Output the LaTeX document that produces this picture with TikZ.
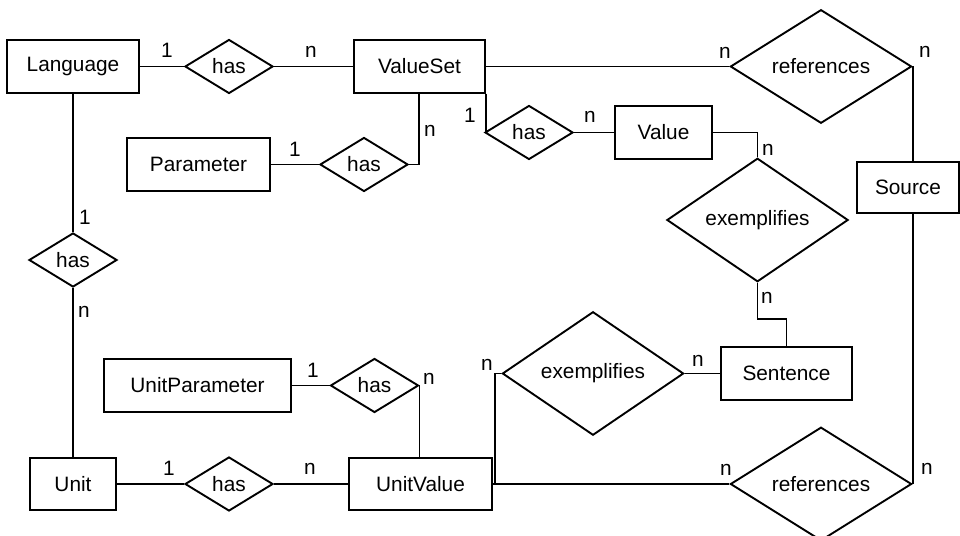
\documentclass[tikz,border=0pt]{standalone}
\usepackage{fontspec}
\setmainfont{Liberation Sans}
\usepackage{tikz}
\usetikzlibrary{shapes.geometric,calc}

\tikzset{
  entity/.style={draw, rectangle, inner sep=0pt, minimum height=1.31cm},
  rel/.style={draw, diamond, inner sep=0pt, minimum width=2.2cm, minimum height=1.35cm},
  bigrel/.style={draw, diamond, inner sep=0pt, minimum width=4.53cm, minimum height=2.75cm},
  card/.style={inner sep=0pt}
}

\begin{document}
\begin{tikzpicture}[x=0.025cm, y=-0.025cm, line width=1.35pt,
    every node/.style={font=\fontsize{14.8}{17}\selectfont}]
    \useasboundingbox (0,0) rectangle (960,536);

    % Entities
    \node[entity, minimum width=3.3cm] (lang) at (73,66.5) {Language};
    \node[entity, minimum width=3.28cm] (vset) at (419.5,66.5) {ValueSet};
    \node[entity, minimum width=3.58cm] (param) at (198.5,164.5) {Parameter};
    \node[entity, minimum width=2.43cm] (val) at (663.5,132.5) {Value};
    \node[entity, minimum width=2.55cm, minimum height=1.28cm] (src) at (908,187.5) {Source};
    \node[entity, minimum width=3.28cm] (sent) at (786.5,373.5) {Sentence};
    \node[entity, minimum width=4.68cm] (upar) at (197.5,385.5) {UnitParameter};
    \node[entity, minimum width=2.15cm] (unit) at (73,484) {Unit};
    \node[entity, minimum width=3.58cm] (uval) at (420.5,484) {UnitValue};

    % Relationships
    \node[rel] (haslv) at (229,66.5) {has};
    \node[rel] (hasvp) at (364,164.5) {has};
    \node[rel] (hasvv) at (529,132.5) {has};
    \node[rel] (haslu) at (73,260) {has};
    \node[rel] (hasuu) at (229,484) {has};
    \node[rel] (hasup) at (374.5,385.5) {has};
    \node[bigrel] (reftop) at (821,66.5) {references};
    \node[bigrel] (exval) at (757.5,220) {exemplifies};
    \node[bigrel] (exuval) at (593,373.5) {exemplifies};
    \node[bigrel] (refbot) at (821,484) {references};

    % Connectors
    \draw (lang) -- (haslv) -- (vset);
    \draw (vset.east) -- (reftop.west);
    \draw (reftop.east) -- (reftop.east |- src.north);
    \draw (reftop.east |- src.south) -- (refbot.east);
    \draw (vset.south -| hasvp.east) ++(10,0) coordinate (vsdown) |- (hasvp.east);
    \draw (vset.south east) |- (hasvv.west);
    \draw (hasvp.west) -- (param.east);
    \draw (hasvv.east) -- (val.west);
    \draw (val.east) -| (exval.north);
    \draw (exval.south) -- ++(0,36) -| (sent.north);
    \draw (exuval.east) -- (sent.west);
    \draw (exuval.west) -- ++(-6,0) |- (uval.east);
    \draw (uval.east) -- (refbot.west);
    \draw (lang.south) -- (haslu.north);
    \draw (haslu.south) -- (unit.north);
    \draw (unit) -- (hasuu) -- (uval);
    \draw (upar.east) -- (hasup.west);
    \draw (hasup.east) -- (hasup.east |- uval.north);

    % Cardinalities
    \node[card] (c1) at (167,50) {1};
    \node[card] (c2) at (311,52) {n};
    \node[card] (c3) at (725,53) {n};
    \node[card] (c4) at (925,52) {n};
    \node[card] (c5) at (430,131) {n};
    \node[card] (c6) at (295,149) {1};
    \node[card] (c7) at (470,115) {1};
    \node[card] (c8) at (590,117) {n};
    \node[card] (c9) at (768,150) {n};
    \node[card] (c10) at (85,217) {1};
    \node[card] (c11) at (84,312) {n};
    \node[card] (c12) at (313,370) {1};
    \node[card] (c13) at (429,379) {n};
    \node[card] (c14) at (169,468) {1};
    \node[card] (c15) at (310,469) {n};
    \node[card] (c16) at (767,298) {n};
    \node[card] (c17) at (487,365) {n};
    \node[card] (c18) at (698,361) {n};
    \node[card] (c19) at (726,470) {n};
    \node[card] (c20) at (927,469) {n};
\end{tikzpicture}
\end{document}
